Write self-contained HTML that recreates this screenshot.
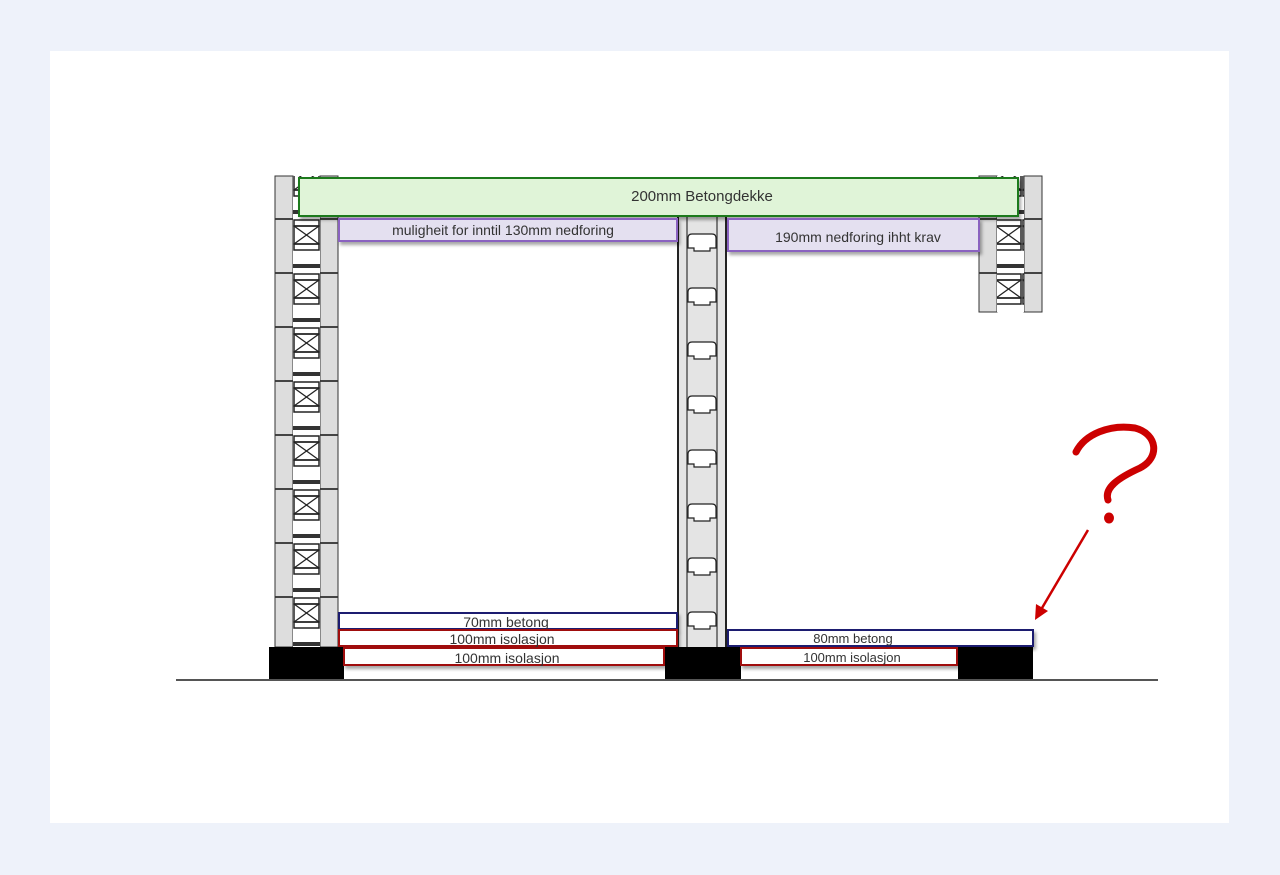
<!DOCTYPE html>
<html><head><meta charset="utf-8"><style>
html,body{margin:0;padding:0;background:#eef2fa;}
svg{display:block}
text{font-family:"Liberation Sans",Arial,sans-serif;fill:#333}
</style></head><body>
<svg width="1280" height="875" viewBox="0 0 1280 875" xmlns="http://www.w3.org/2000/svg">
<defs>
<pattern id="lat" x="293" y="218" width="27" height="54" patternUnits="userSpaceOnUse">
<rect x="0" y="0" width="27" height="54" fill="#fff"/>
<rect x="1" y="2" width="25" height="6" fill="none" stroke="#222" stroke-width="1.5"/>
<rect x="1" y="8" width="25" height="18" fill="none" stroke="#222" stroke-width="1.5"/>
<line x1="1" y1="8" x2="26" y2="26" stroke="#222" stroke-width="1.3"/>
<line x1="26" y1="8" x2="1" y2="26" stroke="#222" stroke-width="1.3"/>
<rect x="1" y="26" width="25" height="6" fill="none" stroke="#222" stroke-width="1.5"/>
<rect x="0" y="46" width="27" height="4" fill="#333"/>
</pattern>
<pattern id="bar" x="0" y="218" width="18" height="54" patternUnits="userSpaceOnUse">
<rect x="0" y="0" width="18" height="54" fill="#ddd"/>
<rect x="0" y="0" width="18" height="2" fill="#444"/>
</pattern>
<pattern id="mid" x="677" y="208" width="50" height="54" patternUnits="userSpaceOnUse">
<rect x="0" y="0" width="50" height="54" fill="#e4e4e4"/>
<line x1="1" y1="0" x2="1" y2="54" stroke="#222" stroke-width="2"/>
<line x1="49" y1="0" x2="49" y2="54" stroke="#222" stroke-width="2"/>
<line x1="10" y1="0" x2="10" y2="54" stroke="#333" stroke-width="1.2"/>
<line x1="40" y1="0" x2="40" y2="54" stroke="#333" stroke-width="1.2"/>
<path d="M11 30 Q11 26 15 26 H35 Q39 26 39 30 V40 H33 V43 H17 V40 H11 Z" fill="#fff" stroke="#222" stroke-width="1.2"/>
</pattern>
<filter id="sh" x="-5%" y="-20%" width="110%" height="160%"><feDropShadow dx="2" dy="3" stdDeviation="1.5" flood-color="#000" flood-opacity="0.35"/></filter>
</defs>
<rect x="50" y="51" width="1179" height="772" fill="#fff"/>
<!-- left wall -->
<rect x="275" y="176" width="18" height="471" fill="url(#bar)" stroke="#333" stroke-width="1"/>
<rect x="320" y="176" width="18" height="471" fill="url(#bar)" stroke="#333" stroke-width="1"/>
<rect x="293" y="176" width="27" height="471" fill="url(#lat)"/>
<!-- middle wall -->
<rect x="677" y="216" width="50" height="431" fill="url(#mid)"/>
<!-- right wall top -->
<rect x="979" y="176" width="18" height="136" fill="url(#bar)" stroke="#333" stroke-width="1"/>
<rect x="1024" y="176" width="18" height="136" fill="url(#bar)" stroke="#333" stroke-width="1"/>
<rect x="997" y="176" width="27" height="136" fill="url(#lat)"/>
<!-- footings -->
<rect x="269" y="647" width="75" height="33" fill="#000"/>
<rect x="665" y="647" width="76" height="33" fill="#000"/>
<rect x="958" y="647" width="75" height="33" fill="#000"/>
<line x1="176" y1="680" x2="1158" y2="680" stroke="#555" stroke-width="2"/>
<!-- boxes -->
<rect x="299" y="178" width="719" height="38" fill="#e0f4d8" stroke="#1e7a1e" stroke-width="2" filter="url(#sh)"/>
<text x="702" y="201" font-size="15" text-anchor="middle">200mm Betongdekke</text>
<rect x="339" y="219" width="338" height="22" fill="#e4e0f0" stroke="#8a62c0" stroke-width="2" filter="url(#sh)"/>
<text x="503" y="235" font-size="14" text-anchor="middle">muligheit for inntil 130mm nedforing</text>
<rect x="728" y="219" width="251" height="32" fill="#e4e0f0" stroke="#8a62c0" stroke-width="2" filter="url(#sh)"/>
<text x="858" y="242" font-size="14" text-anchor="middle">190mm nedforing ihht krav</text>
<rect x="339" y="613" width="338" height="16" fill="#fff" stroke="#1a1a70" stroke-width="2" filter="url(#sh)"/>
<text x="506" y="627" font-size="14" text-anchor="middle">70mm betong</text>
<rect x="339" y="630" width="338" height="16" fill="#fff" stroke="#a01010" stroke-width="2" filter="url(#sh)"/>
<text x="502" y="644" font-size="14" text-anchor="middle">100mm isolasjon</text>
<rect x="344" y="648" width="320" height="17" fill="#fff" stroke="#a01010" stroke-width="2" filter="url(#sh)"/>
<text x="507" y="663" font-size="14" text-anchor="middle">100mm isolasjon</text>
<rect x="728" y="630" width="305" height="16" fill="#fff" stroke="#1a1a70" stroke-width="2" filter="url(#sh)"/>
<text x="853" y="643" font-size="13" text-anchor="middle">80mm betong</text>
<rect x="741" y="648" width="216" height="17" fill="#fff" stroke="#a01010" stroke-width="2" filter="url(#sh)"/>
<text x="852" y="662" font-size="13" text-anchor="middle">100mm isolasjon</text>
<!-- question mark + arrow -->
<path d="M1076 452 C1085 434 1110 424 1135 428 C1158 434 1160 458 1140 468 C1118 478 1104 488 1108 500" fill="none" stroke="#c00" stroke-width="7" stroke-linecap="round"/>
<ellipse cx="1109" cy="518" rx="5" ry="5.5" fill="#c00"/>
<line x1="1088" y1="530" x2="1042" y2="608" stroke="#c00" stroke-width="2.5"/>
<polygon points="1035,620 1036,604 1048,611" fill="#c00"/>
</svg>
</body></html>
